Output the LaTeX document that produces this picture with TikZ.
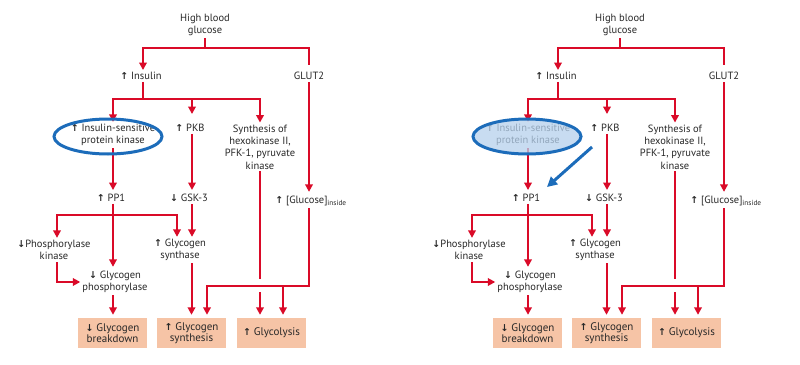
\documentclass[tikz,border=0pt]{standalone}
\usepackage{fontspec}
\setmainfont{PT Sans}
\newfontfamily\arrfont{DejaVu Sans}
\usetikzlibrary{arrows.meta,shapes.geometric,calc}
\definecolor{myred}{RGB}{218,10,40}
\definecolor{boxfill}{RGB}{246,196,166}
\definecolor{ellblue}{RGB}{28,108,186}
\definecolor{ellfill}{RGB}{182,209,237}
\definecolor{txt}{RGB}{40,40,40}
\newcommand\upa{{\arrfont\bfseries\fontsize{9.5}{9.5}\selectfont↑}}
\newcommand\dna{{\arrfont\bfseries\fontsize{9.5}{9.5}\selectfont↓}}
\tikzset{
  rl/.style={draw=myred,line width=2pt},
  tip/.style={-{Triangle[length=7.5pt,width=7.5pt]}},
  lbl/.style={font=\fontsize{10.5}{12.3}\selectfont,align=center,inner sep=2pt,text=txt},
  box/.style={fill=boxfill,minimum width=69pt,minimum height=30pt,inner sep=1pt,
    font=\fontsize{11}{11.5}\selectfont,align=center,text=txt},
  ell/.style={ellipse,draw=ellblue,line width=3pt,minimum width=108pt,minimum height=35pt,inner sep=0pt},
}
\newcommand\panel[3]{%
\begin{scope}[xshift=#2]
\node[lbl] (#1hbg) at (205,25) {High blood\\glucose};
\coordinate (#1j1) at (205,48);
\node[lbl] (#1ins) at (141,76) {\upa\ Insulin};
\node[lbl] (#1glut) at (309,76) {GLUT2};
\draw[rl] (#1hbg) -- (#1j1);
\draw[rl,tip] (#1j1) -| ([xshift=2pt]#1ins.north);
\draw[rl,shorten >=5pt] (#1j1) -| (#1glut);
\coordinate (#1j2) at (143,99);
\draw[rl] ([xshift=2pt]#1ins.south) -- (#1j2);
\node[lbl] (#1isp) at (113,135) {\upa\ Insulin-sensitive\\protein kinase};
\node[lbl] (#1pkb) at (190,128) {\upa\ PKB};
\node[lbl] (#1syn) at (260,147) {Synthesis of\\hexokinase II,\\PFK-1, pyruvate\\kinase};
\draw[rl,tip] (#1j2) -| (#1isp);
\draw[rl,tip,shorten >=8pt] (#1j2) -| ([xshift=2pt]#1pkb.north);
\draw[rl,tip] (#1j2) -| (#1syn);
\node[lbl] (#1pp1) at (111,198) {\upa\ PP1};
\node[lbl] (#1gsk) at (189,198) {\dna\ GSK-3};
\node[lbl] (#1glc) at (311,201) {\upa\ [Glucose]\textsubscript{inside}};
\draw[rl,tip,shorten >=2pt] (#1isp) -- (#1isp |- #1pp1.north);
\draw[rl,tip,shorten >=2pt] ([xshift=2pt]#1pkb.south) -- ([xshift=2pt]#1pkb.south |- #1gsk.north);
\draw[rl,tip,shorten >=2pt] (#1glut) -- (#1glut |- #1glc.north);
\coordinate (#1j3) at (113,215);
\node[lbl] (#1phk) at (54,250) {\dna Phosphorylase\\kinase};
\node[lbl] (#1gs) at (180,250) {\upa\ Glycogen\\synthase};
\node[lbl] (#1gp) at (115,282) {\dna\ Glycogen\\phosphorylase};
\draw[rl,tip,shorten >=2pt] (#1j3 |- #1pp1.south) -- (#1j3 |- #1gp.north);
\draw[rl,tip] (#1j3) -| ([xshift=3pt]#1phk.north);
\draw[rl,tip] (#1j3) -| ([xshift=-3pt]#1gs.north);
\draw[rl,tip] ([xshift=3pt]#1gsk.south) -- ([xshift=3pt]#1gsk.south |- #1gs.north);
\draw[rl,tip] ([xshift=3pt]#1phk.south) |- (#1gp);
\node[box] (#1b1) at (112.5,333) {\dna\ Glycogen\\breakdown};
\node[box] (#1b2) at (191.5,333) {\upa\ Glycogen\\synthesis};
\node[box] (#1b3) at (271.5,333) {\upa\ Glycolysis};
\draw[rl,tip,shorten >=3pt] (#1gp.south -| #1j3) -- (#1b1.north -| #1j3);
\draw[rl,tip,shorten >=3pt] (#1gs.south -| #1b2) -- (#1b2.north);
\coordinate (#1c1) at (260,279);
\coordinate (#1c2) at (260,292);
\draw[rl] (#1syn) -- (#1c1);
\draw[rl,tip,shorten >=3pt] (#1c2) -- (#1c2 |- #1b3.north);
\coordinate (#1j4) at (309,286);
\coordinate (#1j5) at (283,286);
\coordinate (#1j6) at (207,286);
\draw[rl,tip,shorten >=3pt] (#1glc.south -| #1j4) -- (#1j4) -- (#1j6) -- (#1j6 |- #1b2.north);
\draw[rl,tip,shorten >=3pt] (#1j5) -- (#1j5 |- #1b3.north);
\node[ell,#3] (#1ell) at (0,136.5) {};
\end{scope}}
\begin{document}
\begin{tikzpicture}[x=1pt,y=-1pt]
\useasboundingbox (0,0) rectangle (800,364);
\fill[white] (0,0) rectangle (800,364);
\panel{L}{0pt}{xshift=108pt}
\panel{R}{415pt}{xshift=112pt,fill=ellfill,fill opacity=0.75}
\coordinate (bs) at (592,147);
\coordinate (be) at (547,187);
\draw[draw=ellblue,line width=3pt,-{Triangle[length=10pt,width=10pt]}] (bs) -- (be);
\end{tikzpicture}
\end{document}
